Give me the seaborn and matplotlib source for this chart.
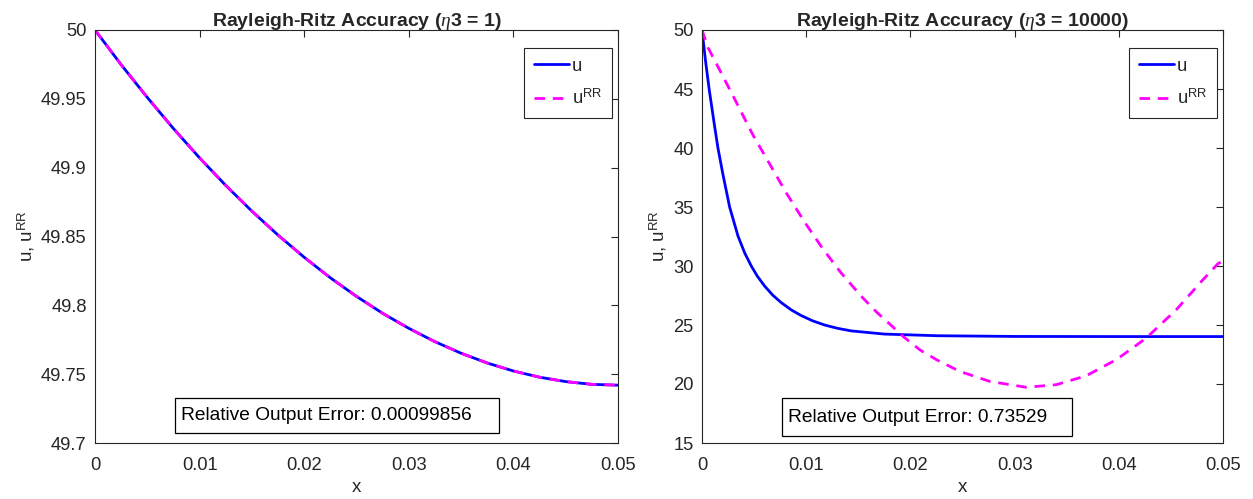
import matplotlib
matplotlib.use("Agg")
import matplotlib.pyplot as plt
import seaborn as sns
import pandas as pd
from matplotlib.patches import Rectangle

# ---------------- data ----------------
left_x = [0.0, 0.0025, 0.005, 0.0075, 0.01, 0.0125, 0.015, 0.0175, 0.02,
          0.0225, 0.025, 0.0275, 0.03, 0.0325, 0.035, 0.0375, 0.04, 0.0425,
          0.045, 0.0475, 0.05]
left_u = [50.0, 49.9748, 49.951, 49.9284, 49.9071, 49.8871, 49.8684, 49.851,
          49.8349, 49.82, 49.8065, 49.7942, 49.7833, 49.7736, 49.7652, 49.7581,
          49.7523, 49.7478, 49.7446, 49.7426, 49.742]
left_urr = [50.0, 49.9748, 49.951, 49.9284, 49.9071, 49.8871, 49.8684, 49.851,
            49.8349, 49.82, 49.8065, 49.7942, 49.7833, 49.7736, 49.7652, 49.7581,
            49.7523, 49.7478, 49.7446, 49.7426, 49.742]

right_x_u = [0.0, 0.00035, 0.0007, 0.0012, 0.00153, 0.002, 0.00265, 0.00345,
             0.0041, 0.00473, 0.0053, 0.00601, 0.0068, 0.0076, 0.0086, 0.00952,
             0.0106, 0.01176, 0.013, 0.01432, 0.01751, 0.02263, 0.03, 0.04, 0.05]
right_u = [50.0, 47.3, 44.9, 41.9, 40.0, 37.8, 35.0, 32.55,
           31.1, 30.0, 29.15, 28.3, 27.52, 26.9, 26.26, 25.8,
           25.36, 25.0, 24.72, 24.5, 24.23, 24.09, 24.03, 24.02, 24.02]

right_x_rr = [0.0, 0.00058, 0.00201, 0.00345, 0.00489, 0.00649, 0.00808, 0.00985,
              0.0116, 0.01336, 0.01527, 0.01675, 0.01818, 0.0193, 0.0209,
              0.0225, 0.02474, 0.02761, 0.03113, 0.034, 0.03688, 0.03976,
              0.04263, 0.04551, 0.04806, 0.0495, 0.05]
right_urr = [50.0, 48.5, 46.08, 43.6, 41.1, 38.65, 36.21, 33.72,
             31.45, 29.4, 27.45, 26.1, 24.95, 24.03, 22.9,
             22.06, 21.07, 20.22, 19.72, 19.94, 20.7, 22.06,
             23.89, 26.29, 28.82, 30.18, 30.45]

titles = [r"Rayleigh-Ritz Accuracy ($\eta$3 = 1)",
          r"Rayleigh-Ritz Accuracy ($\eta$3 = 10000)"]
error_texts = ["Relative Output Error: 0.00099856",
               "Relative Output Error: 0.73529"]
x_ticks = [0, 0.01, 0.02, 0.03, 0.04, 0.05]
x_ticklabels = ["0", "0.01", "0.02", "0.03", "0.04", "0.05"]
left_yticks = [49.7, 49.75, 49.8, 49.85, 49.9, 49.95, 50.0]
left_yticklabels = ["49.7", "49.75", "49.8", "49.85", "49.9", "49.95", "50"]
right_yticks = [15, 20, 25, 30, 35, 40, 45, 50]
right_yticklabels = ["15", "20", "25", "30", "35", "40", "45", "50"]
left_ylim = (49.7, 50.0)
right_ylim = (15, 50)

# ---------------- style ----------------
sns.set_theme(style="white")
plt.rcParams["font.family"] = ["Liberation Sans", "DejaVu Sans"]
plt.rcParams["mathtext.fontset"] = "custom"
plt.rcParams["mathtext.rm"] = "Liberation Sans"
plt.rcParams["mathtext.it"] = "Liberation Serif:italic"
plt.rcParams["mathtext.bf"] = "Liberation Sans:bold"

AX_COL = "#262626"
FS_TICK = 13.2
FS_TITLE = 14
FS_LABEL = 13.5
FS_TEXT = 13.8
FS_LEG = 13.2

fig = plt.figure(figsize=(12.53, 4.99), dpi=100)
ax1 = fig.add_axes([95 / 1253, 56 / 499, 523 / 1253, 413 / 499])
ax2 = fig.add_axes([702 / 1253, 56 / 499, 521 / 1253, 413 / 499])

df_l_u = pd.DataFrame({"x": left_x, "y": left_u})
df_l_rr = pd.DataFrame({"x": left_x, "y": left_urr})
df_r_u = pd.DataFrame({"x": right_x_u, "y": right_u})
df_r_rr = pd.DataFrame({"x": right_x_rr, "y": right_urr})

panels = [
    (ax1, df_l_u, df_l_rr, left_ylim, left_yticks, left_yticklabels,
     titles[0], error_texts[0], (0.153, 0.024, 0.619, 0.086)),
    (ax2, df_r_u, df_r_rr, right_ylim, right_yticks, right_yticklabels,
     titles[1], error_texts[1], (0.154, 0.017, 0.556, 0.091)),
]

for ax, du, drr, ylim, yt, ytl, title, etxt, box in panels:
    sns.lineplot(data=du, x="x", y="y", ax=ax, color=(0, 0, 1), lw=2.0,
                 estimator=None, sort=False, label="u")
    sns.lineplot(data=drr, x="x", y="y", ax=ax, color=(1, 0, 1), lw=2.0,
                 estimator=None, sort=False, label=r"u$^{\mathrm{RR}}$",
                 dashes=False)
    ax.lines[1].set_dashes((3.8, 2.8))
    for ln in ax.lines:
        ln.set_solid_joinstyle("round")
        ln.set_dash_joinstyle("round")
    ax.set_xlim(0, 0.05)
    ax.set_ylim(*ylim)
    ax.set_xticks(x_ticks)
    ax.set_xticklabels(x_ticklabels)
    ax.set_yticks(yt)
    ax.set_yticklabels(ytl)
    ax.tick_params(direction="in", length=5, width=0.8, colors=AX_COL,
                   labelsize=FS_TICK, top=True, right=True, pad=6,
                   labelcolor="#262626")
    ax.tick_params(axis="x", pad=10)
    for s in ax.spines.values():
        s.set_color(AX_COL)
        s.set_linewidth(0.8)
    ax.set_xlabel("x", fontsize=FS_LABEL, color=AX_COL, labelpad=4)
    ax.set_ylabel(r"u, u$^{\mathrm{RR}}$", fontsize=FS_LABEL, color=AX_COL,
                  labelpad=3)
    ax.set_title(title, fontsize=FS_TITLE, fontweight="bold", pad=3)
    leg = ax.legend(loc="upper right", bbox_to_anchor=(0.989, 0.957),
                    borderaxespad=0, fontsize=FS_LEG, frameon=True,
                    fancybox=False, framealpha=1, edgecolor="#262626",
                    handlelength=1.9, handletextpad=0.15, labelspacing=0.75,
                    borderpad=0.55)
    leg.get_frame().set_linewidth(0.8)
    bx, by, bw, bh = box
    ax.add_patch(Rectangle((bx, by), bw, bh, transform=ax.transAxes,
                           facecolor="white", edgecolor="black", lw=0.9,
                           zorder=5))
    ax.text(bx + 0.012, by + bh / 2, etxt, transform=ax.transAxes,
            fontsize=FS_TEXT, va="center", ha="left", color="black", zorder=6)

fig.savefig("out.png", dpi=100)
